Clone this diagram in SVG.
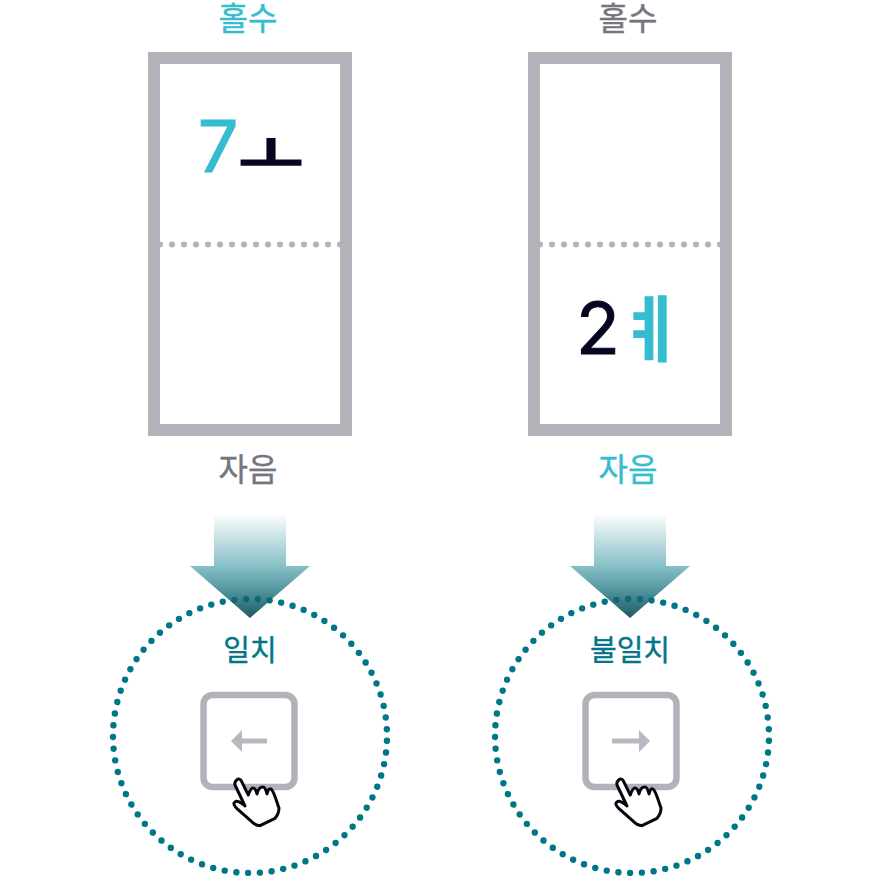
<svg xmlns="http://www.w3.org/2000/svg" width="880" height="876" viewBox="0 0 880 876">
<style>
text{font-family:"Noto Sans CJK KR","Noto Sans",sans-serif;text-anchor:middle;font-weight:400}
.lab{font-size:32px;stroke-width:.4}
.num{font-size:72px;font-family:Inter,"Noto Sans",sans-serif;font-weight:400;stroke-width:1}
.big{font-size:72px;font-weight:500;stroke-width:1.6}
.teal{fill:#35bccf;stroke:#35bccf}.gray{fill:#75757f;stroke:#75757f}.dark{fill:#05061f;stroke:#05061f}.match{font-size:29px;fill:#007786;stroke:#007786;stroke-width:.4}
.box{fill:none;stroke:#b2b2bb;stroke-width:12}
.div{fill:none;stroke:#b2b2bb;stroke-width:6;stroke-linecap:round;stroke-dasharray:0 12}
.ring{fill:none;stroke:#007786;stroke-width:6.4;stroke-linecap:round;stroke-dasharray:0 11.79}
.key{fill:#fff;stroke:#b2b2bb;stroke-width:6.5}
.ak{fill:#b8b8c0}
.hand{fill:#fff;stroke:#05060f;stroke-width:3;stroke-linejoin:round;stroke-linecap:round}
</style>
<defs>
<linearGradient id="g" x1="0" y1="0" x2="0" y2="1">
<stop offset="0" stop-color="#007786" stop-opacity="0"/>
<stop offset="0.5" stop-color="#007786" stop-opacity=".46"/>
<stop offset="1" stop-color="#1d5a64"/>
</linearGradient>
<path id="arrow" d="M-36 0H36V53H60L0 105L-60 53H-36Z" fill="url(#g)"/>
<path id="hand" class="hand" d="M-11.3 15C-10 13-7 14-6.3 16.7L.3 30C2 25 3 23 5 23C7 23 8 25 9 29C10 24 12 22 15 22C17 22 18 25 19 29C20 25 21 23 23 24C26 26 29 38 31 43C31 47 29 51 27 53.3L12 60.7C9 60.5 6 59 3.7 56.7L-11.3 43.3C-14 41-15 38-13 37C-11 35-6 38-3 41L-13 20C-13.5 18-12.5 16-11.3 15Z"/>
</defs>
<g id="card-left">
<rect x="154" y="58" width="192" height="372" fill="#fff"/>
<path class="div" d="M160 244.4H340.5"/>
<rect class="box" x="154" y="58" width="192" height="372"/>
<text class="lab teal" x="248" y="30">홀수</text>
<text class="num teal" x="218" y="172">7</text>
<text class="big dark" x="271" y="175" transform="translate(0 36) scale(1 .8)">ㅗ</text>
<text class="lab gray" x="248" y="481">자음</text>
</g>
<g id="card-right">
<rect x="534" y="58" width="192" height="372" fill="#fff"/>
<path class="div" d="M540 244.4H720.5"/>
<rect class="box" x="534" y="58" width="192" height="372"/>
<text class="lab gray" x="628" y="30">홀수</text>
<text class="num dark" x="598" y="354">2</text>
<text class="big teal" x="651" y="355">ㅖ</text>
<text class="lab teal" x="628" y="481">자음</text>
</g>
<g id="result-left">
<circle class="ring" cx="250" cy="736" r="137" transform="rotate(2 250 736)"/>
<text class="match" x="250" y="661">일치</text>
<rect class="key" x="203.5" y="695" width="91" height="92" rx="9"/>
<path class="ak" d="M231 741L242 730V738.5H267V743.5H242V752Z"/>
<use href="#hand" x="248" y="765"/>
</g>
<g id="result-right">
<circle class="ring" cx="632" cy="736" r="137" transform="rotate(2 632 736)"/>
<text class="match" x="630" y="661">불일치</text>
<rect class="key" x="585.5" y="695" width="91" height="92" rx="9"/>
<path class="ak" d="M650 741L639 730V738.5H612V743.5H639V752Z"/>
<use href="#hand" x="630" y="765"/>
</g>
<g id="connectors">
<use href="#arrow" x="250" y="513"/>
<use href="#arrow" x="630" y="513"/>
</g>
</svg>
